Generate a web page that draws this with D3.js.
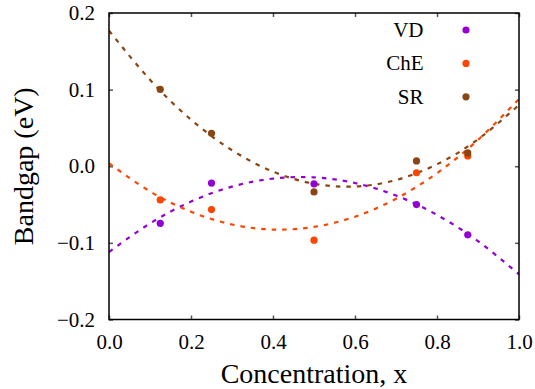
<!DOCTYPE html>
<html>
<head>
<meta charset="utf-8">
<script src="https://cdn.jsdelivr.net/npm/d3@7"></script>
<style>
  body { margin: 0; background: #fff; }
  svg text { font-family: "Liberation Serif", "Times New Roman", serif; fill: #000; }
</style>
</head>
<body>
<div id="chart"></div>
<script>
// measured points (x = concentration)
var conc = [0.125, 0.25, 0.5, 0.75, 0.875];
var vdVals = [-0.0745, -0.022, -0.023, -0.050, -0.0895];
var cheVals = [-0.044, -0.0565, -0.0965, -0.0085, 0.0135];
var srVals = [0.1003, 0.043, -0.0335, 0.0069, 0.0174];

// dashed fit curves at 0.1 steps
var fitX = [0, 0.1, 0.2, 0.3, 0.4, 0.5, 0.6, 0.7, 0.8, 0.9, 1.0];
var vdFit = [-0.112, -0.0746, -0.0461, -0.0266, -0.0161, -0.0145, -0.0219, -0.0382, -0.0635, -0.0978, -0.141];
var cheFit = [0.0038, -0.0328, -0.0594, -0.076, -0.0826, -0.0792, -0.0658, -0.0424, -0.009, 0.0344, 0.0878];
var srFit = [0.177, 0.1129, 0.0608, 0.0209, -0.007, -0.0228, -0.0264, -0.018, 0.0026, 0.0352, 0.080];

var xTicks = [0, 0.2, 0.4, 0.6, 0.8, 1.0];
var yTicks = [-0.2, -0.1, 0, 0.1, 0.2];

var series = [
    {name: "VD", color: "#9400d3", vals: vdVals, fit: vdFit},
    {name: "ChE", color: "#ff4500", vals: cheVals, fit: cheFit},
    {name: "SR", color: "#8b4513", vals: srVals, fit: srFit}
];

var serif = "'Liberation Serif', 'Times New Roman', serif";

var margin = {top: 13, right: 16, bottom: 69.5, left: 109};
var width = 535 - margin.left - margin.right,
    height = 389 - margin.top - margin.bottom;

var svg = d3.select("#chart").append("svg")
    .attr("width", 535)
    .attr("height", 389)
    .append("g")
    .attr("transform", "translate(" + margin.left + "," + margin.top + ")");

var x = d3.scaleLinear().domain([0, 1]).range([0, width]);
var y = d3.scaleLinear().domain([-0.2, 0.2]).range([height, 0]);

svg.append("clipPath").attr("id", "clip")
    .append("rect").attr("width", width).attr("height", height);

// axes, ticks pointing inward on all four sides
function styleAxis(g) {
    g.attr("font-family", serif).attr("font-size", 21);
    g.select(".domain").remove();
    g.selectAll(".tick line").attr("stroke", "#555").attr("stroke-width", 1.5);
    g.selectAll(".tick text").style("font-family", serif).style("font-size", "21px");
}

svg.append("g")
    .attr("transform", "translate(0," + height + ")")
    .call(d3.axisBottom(x).tickValues(xTicks).tickSize(-4).tickPadding(14.5).tickFormat(d3.format(".1f")))
    .call(styleAxis);

svg.append("g")
    .call(d3.axisTop(x).tickValues(xTicks).tickSize(-4).tickFormat(""))
    .call(styleAxis);

svg.append("g")
    .call(d3.axisLeft(y).tickValues(yTicks).tickSize(-4).tickPadding(14).tickFormat(d3.format(".1f")))
    .call(styleAxis);

svg.append("g")
    .attr("transform", "translate(" + width + ",0)")
    .call(d3.axisRight(y).tickValues(yTicks).tickSize(-4).tickFormat(""))
    .call(styleAxis);

var line = d3.line()
    .x(function (d) { return x(d[0]); })
    .y(function (d) { return y(d[1]); })
    .curve(d3.curveNatural);

var plot = svg.append("g").attr("clip-path", "url(#clip)");

series.forEach(function (s) {
    plot.append("path")
        .datum(fitX.map(function (v, i) { return [v, s.fit[i]]; }))
        .attr("d", line)
        .attr("fill", "none")
        .attr("stroke", s.color)
        .attr("stroke-width", 2.2)
        .attr("stroke-dasharray", "4.5,6");
});

series.forEach(function (s) {
    plot.selectAll(null)
        .data(conc.map(function (v, i) { return [v, s.vals[i]]; }))
        .enter().append("circle")
        .attr("cx", function (d) { return x(d[0]); })
        .attr("cy", function (d) { return y(d[1]); })
        .attr("r", 3.6)
        .attr("fill", s.color);
});

// frame
svg.append("rect")
    .attr("width", width)
    .attr("height", height)
    .attr("fill", "none")
    .attr("stroke", "#000")
    .attr("stroke-width", 1.5);

// legend
var legend = svg.append("g");
series.forEach(function (s, i) {
    var ly = 17 + i * 33.4;
    legend.append("text")
        .attr("x", 423.5 - margin.left)
        .attr("y", ly)
        .attr("dy", "0.33em")
        .attr("text-anchor", "end")
        .style("font-size", "21px")
        .text(s.name);
    legend.append("circle")
        .attr("cx", 466 - margin.left)
        .attr("cy", ly)
        .attr("r", 3.6)
        .attr("fill", s.color);
});

// axis titles
svg.append("text")
    .attr("x", width / 2)
    .attr("y", 383 - margin.top)
    .attr("text-anchor", "middle")
    .style("font-size", "28px")
    .text("Concentration, x");

svg.append("text")
    .attr("transform", "translate(" + (33 - margin.left) + "," + (height / 2) + ") rotate(-90)")
    .attr("text-anchor", "middle")
    .style("font-size", "28px")
    .text("Bandgap (eV)");
</script>
</body>
</html>
